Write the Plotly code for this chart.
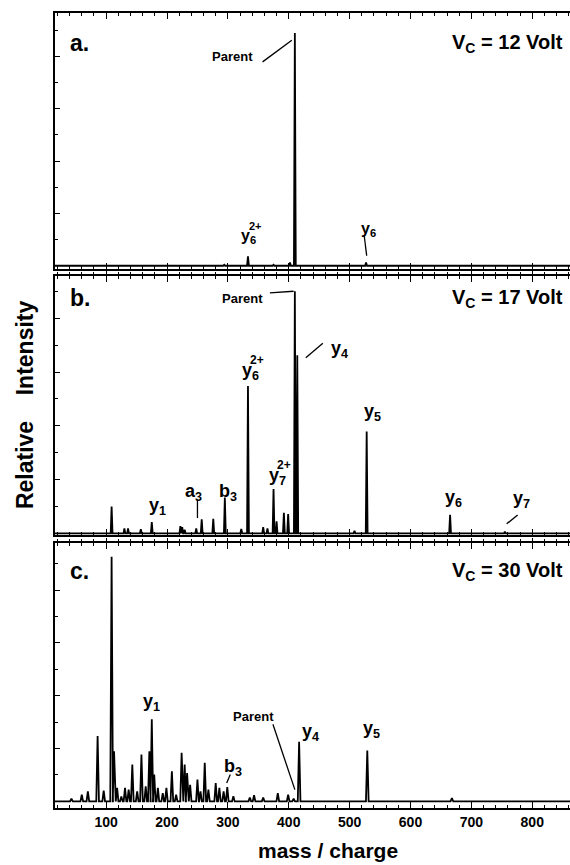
import plotly.graph_objects as go

# ---------------- data ----------------
# panel a (Vc = 12 V): peak m/z and relative intensity (parent = 100)
mz_a = [294, 333, 375, 402, 410, 527]
int_a = [0.4, 4.0, 0.4, 1.4, 100, 1.4]

# panel b (Vc = 17 V)
mz_b = [109, 130, 136, 157, 175, 222, 225, 229, 248, 257, 276, 295, 322, 333,
        358, 365, 375, 380, 392, 399, 410, 414, 508, 528, 665, 755]
int_b = [11.1, 2.0, 2.0, 1.7, 4.6, 3.0, 2.5, 1.5, 2.0, 5.8, 6.0, 14.8, 1.8, 60.8,
         2.5, 2.0, 18.3, 5.0, 8.5, 8.0, 100, 73.6, 1.0, 42.1, 7.6, 0.7]

# panel c (Vc = 30 V)
mz_c = [43, 60, 70, 86, 96, 109, 113, 118, 125, 131, 137, 143, 151, 158, 165, 171,
        175, 179, 185, 193, 199, 208, 215, 224, 229, 233, 238, 250, 255, 262, 268,
        280, 286, 293, 299, 309, 336, 343, 358, 382, 399, 408, 417, 529, 668]
int_c = [1.1, 2.7, 4.1, 26.7, 4.4, 100, 20.5, 5.5, 2.0, 5.5, 4.8, 15.1, 4.1, 19.2,
         6.2, 20.5, 33.6, 11.0, 5.5, 3.4, 5.5, 12.3, 2.7, 19.9, 15.1, 11.6, 6.8, 8.9,
         4.1, 15.8, 4.8, 7.5, 5.5, 4.1, 5.8, 2.1, 1.6, 2.5, 1.6, 3.4, 2.7, 1.1, 24.4,
         20.8, 1.4]

x_ticks = [100, 200, 300, 400, 500, 600, 700, 800]
x_tick_labels = ["100", "200", "300", "400", "500", "600", "700", "800"]

panel_letters = ["a.", "b.", "c."]
voltages = ["12", "17", "30"]

# ---------------- helpers ----------------
XMIN, XMAX = 16, 862


def spectrum(mz, inten, half):
    xs, ys = [XMIN], [0.0]
    for m, h in sorted(zip(mz, inten)):
        xs += [m - half, m, m + half]
        ys += [0.0, h, 0.0]
    xs.append(XMAX + 10)
    ys.append(0.0)
    return xs, ys


FONT = "Liberation Sans, Arial, Helvetica, sans-serif"
fig = go.Figure()

panels = [
    ("x3", "y3", mz_a, int_a, 1.5),
    ("x2", "y2", mz_b, int_b, 1.5),
    ("x", "y", mz_c, int_c, 2.2),
]
for xa, ya, mz, inten, half in panels:
    xs, ys = spectrum(mz, inten, half)
    fig.add_trace(go.Scatter(x=xs, y=ys, mode="lines", xaxis=xa, yaxis=ya,
                             line=dict(color="black", width=1.8),
                             hoverinfo="skip", showlegend=False))

# domains (paper fraction, bottom = 0)
dom_c = [0.0, 0.3333]
dom_b = [0.3434, 0.6692]
dom_a = [0.678, 1.0]

minor_x = dict(dtick=20, ticks="inside", ticklen=3, tickcolor="black", tickwidth=1)
xcommon = dict(range=[XMIN, XMAX], showline=True, linecolor="black", linewidth=2,
               mirror="ticks", ticks="inside", ticklen=6, tickwidth=1.2, tickcolor="black",
               tick0=0, dtick=100, showgrid=False, zeroline=False, minor=minor_x)
# extra overlay axes giving the crossing ("+") ticks seen along the panel borders
xover = dict(range=[XMIN, XMAX], showline=False, ticks="outside", ticklen=4,
             tickwidth=1.2, tickcolor="black", tick0=0, dtick=100, showgrid=False,
             zeroline=False, showticklabels=False, matches="x",
             minor=dict(dtick=20, ticks="outside", ticklen=3, tickcolor="black", tickwidth=1))
ycommon = dict(showline=True, linecolor="black", linewidth=2, ticks="inside",
               ticklen=5, tickwidth=1.2, tickcolor="black", showticklabels=False,
               showgrid=False, zeroline=False)

fig.update_layout(
    width=570, height=865,
    margin=dict(l=55, r=0, t=13, b=57),
    paper_bgcolor="white", plot_bgcolor="white",
    xaxis=dict(**xcommon, anchor="y", tickvals=x_ticks, ticktext=x_tick_labels,
               tickfont=dict(family=FONT, size=14, color="black", weight="bold")),
    xaxis2=dict(**xcommon, anchor="y2", matches="x", showticklabels=False),
    xaxis3=dict(**xcommon, anchor="y3", matches="x", showticklabels=False),
    xaxis4=dict(**xover, anchor="y2", overlaying="x2", side="top"),
    xaxis5=dict(**xover, anchor="y", overlaying="x", side="top"),
    yaxis=dict(**ycommon, domain=dom_c, range=[-2.7, 105.6], tick0=0, dtick=21.6,
               minor=dict(dtick=10.8, ticks="inside", ticklen=3, tickcolor="black")),
    yaxis2=dict(**ycommon, domain=dom_b, range=[-0.7, 106.3], tick0=0, dtick=22.2,
                minor=dict(dtick=11.1, ticks="inside", ticklen=3, tickcolor="black")),
    yaxis3=dict(**ycommon, domain=dom_a, range=[-1.4, 108.6], tick0=0, dtick=22.5,
                minor=dict(dtick=11.25, ticks="inside", ticklen=3, tickcolor="black")),
)
# invisible traces so the overlay axes are drawn
fig.add_trace(go.Scatter(x=[XMIN], y=[0], xaxis="x4", yaxis="y2", mode="markers",
                         marker=dict(opacity=0), hoverinfo="skip", showlegend=False))
fig.add_trace(go.Scatter(x=[XMIN], y=[0], xaxis="x5", yaxis="y", mode="markers",
                         marker=dict(opacity=0), hoverinfo="skip", showlegend=False))

ann = []


def label(xref, yref, x, y, text, size=16, xanchor="center", yanchor="middle",
          xshift=0, yshift=0):
    ann.append(dict(x=x, y=y, xref=xref, yref=yref, text="<b>" + text + "</b>",
                    showarrow=False, xanchor=xanchor, yanchor=yanchor,
                    xshift=xshift, yshift=yshift,
                    font=dict(family=FONT, size=size, color="black")))


def ion(xref, yref, x, y, letter, sub, sup=None, size=18):
    label(xref, yref, x, y, letter + "<sub>" + sub + "</sub>", size=size)
    if sup:
        label(xref, yref, x, y, sup, size=int(size * 0.7), xshift=7, yshift=11)


def leader(xref, yref, x0, y0, x1, y1):
    fig.add_shape(type="line", xref=xref, yref=yref, x0=x0, y0=y0, x1=x1, y1=y1,
                  line=dict(color="black", width=1.3))


# panel letters and voltages
for (xr, yr), letter, v, ytop in zip([("x3", "y3"), ("x2", "y2"), ("x", "y")],
                                     panel_letters, voltages, [95.7, 97.0, 94.0]):
    label(xr, yr, 38, ytop, letter, size=23, xanchor="left")
    label(xr + " domain", yr, 0.99, ytop, "V<sub>C</sub> = " + v + " Volt",
          size=20, xanchor="right")

# panel a labels
label("x3", "y3", 308, 89.7, "Parent", size=13)
leader("x3", "y3", 357, 87.6, 405, 96.9)
ion("x3", "y3", 334, 12.5, "y", "6", "2+", size=16)
ion("x3", "y3", 531, 15.7, "y", "6", size=16)
leader("x3", "y3", 524, 12.9, 528, 4.3)

# panel b labels
label("x2", "y2", 324, 96.9, "Parent", size=13)
leader("x2", "y2", 369, 99.3, 408, 100)
ion("x2", "y2", 483, 76.0, "y", "4")
leader("x2", "y2", 456, 78.5, 428, 72.5)
ion("x2", "y2", 337, 67.0, "y", "6", "2+")
ion("x2", "y2", 537, 50.0, "y", "5")
ion("x2", "y2", 381, 23.5, "y", "7", "2+")
ion("x2", "y2", 184, 11.1, "y", "1")
ion("x2", "y2", 244, 17.0, "a", "3")
leader("x2", "y2", 250, 13.9, 250, 6.3)
ion("x2", "y2", 300, 17.0, "b", "3")
ion("x2", "y2", 671, 14.2, "y", "6")
ion("x2", "y2", 782, 13.9, "y", "7")
leader("x2", "y2", 776, 7.6, 758, 3.9)

# panel c labels
ion("x", "y", 175, 40.4, "y", "1")
label("x", "y", 342, 34.9, "Parent", size=13)
leader("x", "y", 374, 31.5, 410, 4.8)
ion("x", "y", 436, 28.1, "y", "4")
ion("x", "y", 536, 29.5, "y", "5")
ion("x", "y", 309, 13.7, "b", "3")
leader("x", "y", 304, 11.0, 298, 7.5)

# axis titles
ann.append(dict(x=-0.058, y=0.507, xref="paper", yref="paper",
                text="<b>Relative&nbsp;&nbsp;&nbsp;&nbsp;Intensity</b>", textangle=-90,
                showarrow=False, xanchor="center", yanchor="middle",
                font=dict(family=FONT, size=23, color="black")))
ann.append(dict(x=465, y=-0.053, xref="x", yref="paper",
                text="<b>mass / charge</b>", showarrow=False,
                xanchor="center", yanchor="middle",
                font=dict(family=FONT, size=21, color="black")))

fig.update_layout(annotations=ann)
# remove the default page margin so the 570x865 figure fills the window exactly
fig.write_html("out.html",
               config={"displayModeBar": False},
               post_script="document.body.style.margin='0px';"
                           "document.body.style.overflow='hidden';")
